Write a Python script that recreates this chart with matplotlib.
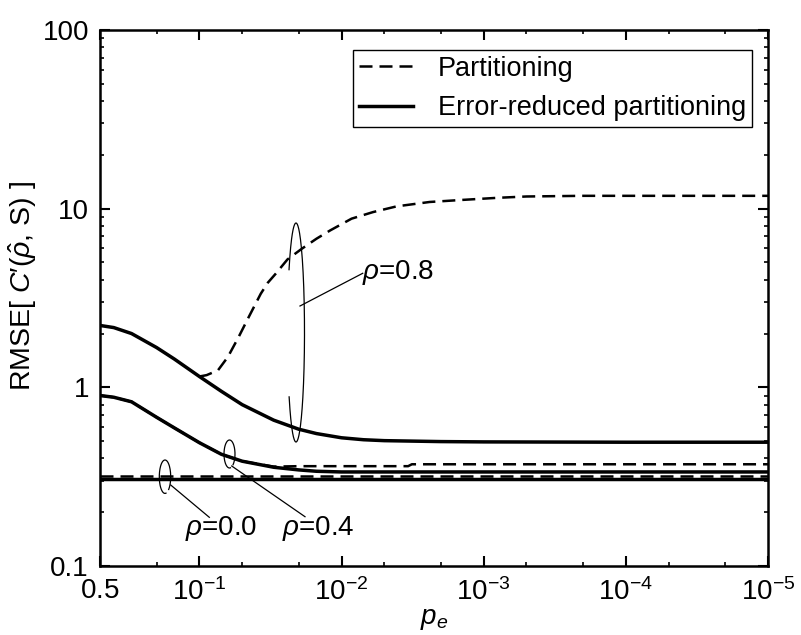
import numpy as np
import matplotlib
matplotlib.use("Agg")
import matplotlib.pyplot as plt
from matplotlib.ticker import LogLocator, NullFormatter, FixedLocator

plt.rcParams['font.family'] = ['Liberation Sans', 'DejaVu Sans']
plt.rcParams['mathtext.fontset'] = 'custom'
plt.rcParams['mathtext.rm'] = 'Liberation Sans'
plt.rcParams['mathtext.it'] = 'Liberation Sans:italic'
plt.rcParams['mathtext.bf'] = 'Liberation Sans:bold'

# values
p_grid = [0.5, 0.4, 0.3, 0.2, 0.15, 0.1, 0.07, 0.05, 0.03, 0.02, 0.015,
          0.01, 0.007, 0.005, 0.002, 0.001, 1e-4, 1e-5]
rmse_08_err = [2.22, 2.16, 2.0, 1.67, 1.44, 1.15, 0.95, 0.80, 0.655, 0.583,
               0.551, 0.522, 0.509, 0.503, 0.497, 0.495, 0.493, 0.493]
rmse_04_err = [0.90, 0.88, 0.83, 0.68, 0.593, 0.49, 0.422, 0.386, 0.357, 0.345,
               0.339, 0.336, 0.336, 0.336, 0.336, 0.336, 0.336, 0.336]

p_08_part = [0.1, 0.089, 0.074, 0.063, 0.053, 0.045, 0.037, 0.033, 0.029, 0.024,
             0.019, 0.015, 0.012, 0.0085, 0.006, 0.0041, 0.0024, 0.0014, 8e-4,
             5e-4, 2e-4, 1e-5]
rmse_08_part = [1.15, 1.17, 1.245, 1.48, 1.91, 2.47, 3.34, 3.85, 4.33, 5.2,
                5.97, 6.79, 7.56, 8.79, 9.57, 10.3, 10.9, 11.2, 11.5,
                11.7, 11.8, 11.8]

p_04_part = [0.5, 0.4, 0.3, 0.2, 0.15, 0.1, 0.07, 0.05, 0.03, 0.02, 0.01,
             0.0034, 0.0032, 1e-3, 1e-4, 1e-5]
rmse_04_part = [0.90, 0.88, 0.83, 0.68, 0.593, 0.49, 0.422, 0.386, 0.36, 0.362,
                0.362, 0.362, 0.371, 0.371, 0.371, 0.371]

p_00 = [0.5, 1e-5]
rmse_00_err = [0.305, 0.305]
rmse_00_part = [0.32, 0.32]

xticks = [0.5, 1e-1, 1e-2, 1e-3, 1e-4, 1e-5]
xticklabels = ['$0.5$', '$10^{-1}$', '$10^{-2}$', '$10^{-3}$', '$10^{-4}$', '$10^{-5}$']
yticks = [0.1, 1, 10, 100]
yticklabels = ['0.1', '1', '10', '100']

W, H = 801, 635
fig = plt.figure(figsize=(W / 100, H / 100), dpi=100)
ax = fig.add_axes([100 / W, 1 - 566 / H, 668 / W, 536 / H])

dash = (0, (5.2, 2.8))
lw_d = 1.8
lw_s = 2.5

ax.plot(p_00, rmse_00_part, color='black', lw=lw_d, ls=dash)
ax.plot(p_04_part, rmse_04_part, color='black', lw=lw_d, ls=dash)
ax.plot(p_08_part, rmse_08_part, color='black', lw=lw_d, ls=dash,
        label='Partitioning')
ax.plot(p_00, rmse_00_err, color='black', lw=lw_s)
ax.plot(p_grid, rmse_04_err, color='black', lw=lw_s)
ax.plot(p_grid, rmse_08_err, color='black', lw=lw_s,
        label='Error-reduced partitioning')

ax.set_xscale('log')
ax.set_yscale('log')
ax.set_xlim(0.5, 1e-5)
ax.set_ylim(0.1, 100)

ax.xaxis.set_major_locator(FixedLocator(xticks))
ax.set_xticklabels(xticklabels)
ax.xaxis.set_minor_locator(LogLocator(base=10, subs=(2.0, 5.0), numticks=20))
ax.xaxis.set_minor_formatter(NullFormatter())
ax.yaxis.set_major_locator(FixedLocator(yticks))
ax.set_yticklabels(yticklabels)
ax.yaxis.set_minor_locator(LogLocator(base=10, subs=np.arange(2, 10), numticks=20))
ax.yaxis.set_minor_formatter(NullFormatter())

ax.tick_params(which='both', direction='in', top=True, right=True, labelsize=20)
ax.tick_params(which='major', length=7, width=1.5)
ax.tick_params(which='minor', length=3, width=1.2)
ax.tick_params(axis='x', pad=9)
ax.tick_params(axis='y', pad=8)
for s in ax.spines.values():
    s.set_linewidth(1.8)

ax.set_xlabel('$p_e$', fontsize=20, labelpad=0)
ax.set_ylabel(r'RMSE[ $C$′($\hat{\rho}$, S) ]', fontsize=20.5)
ax.yaxis.set_label_coords(-0.092, 0.522)

leg = ax.legend(loc='upper right', bbox_to_anchor=(0.976, 0.963), borderaxespad=0,
                fontsize=19.5, frameon=True, fancybox=False, framealpha=1,
                edgecolor='black', handlelength=2.0, handletextpad=0.9,
                labelspacing=0.5, borderpad=0.22)
leg.get_frame().set_linewidth(1.0)


# annotations, positions in figure pixels
def fx(x):
    return x / W


def fy(y):
    return 1 - y / H


def loop(cx, cy, rx, ry, t0, t1):
    t = np.radians(np.linspace(t0, t1, 200))
    xs = [fx(cx + rx * np.cos(a)) for a in t]
    ys = [fy(cy - ry * np.sin(a)) for a in t]
    fig.add_artist(plt.Line2D(xs, ys, color='black', lw=0.9, transform=fig.transFigure))


def leader(x0, y0, x1, y1):
    fig.add_artist(plt.Line2D([fx(x0), fx(x1)], [fy(y0), fy(y1)], color='black',
                              lw=0.9, transform=fig.transFigure))


loop(296, 332.5, 8.5, 109.5, 216, 505)
loop(229.5, 454, 5.5, 14, -50, 280)
loop(165, 476.7, 5.7, 16.7, -50, 280)
leader(300, 306, 362.7, 273.3)
leader(231.7, 466, 305, 516.7)
leader(170.7, 485, 209.3, 517.3)

fig.text(fx(361.7), fy(279.3), r'$\rho$=0.8', fontsize=20, va='baseline')
fig.text(fx(281.7), fy(535), r'$\rho$=0.4', fontsize=20, va='baseline')
fig.text(fx(185), fy(535), r'$\rho$=0.0', fontsize=20, va='baseline')

fig.savefig('out.png', dpi=100)
